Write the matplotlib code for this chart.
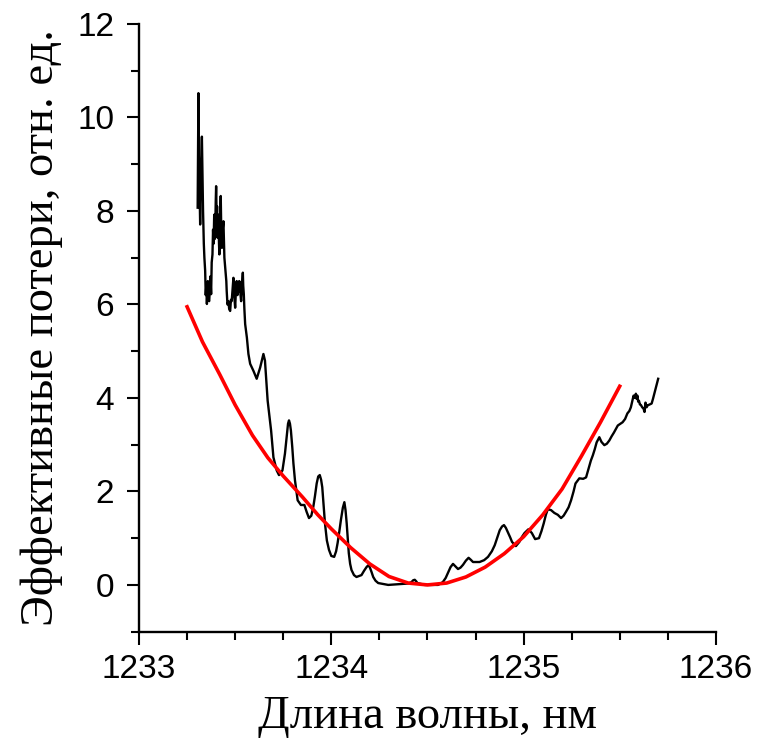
import matplotlib
matplotlib.use('Agg')
import matplotlib.pyplot as plt
from matplotlib.ticker import MultipleLocator

wl = [1233.305, 1233.307, 1233.309, 1233.311, 1233.313, 1233.316, 1233.318, 1233.321,
      1233.324, 1233.327, 1233.330, 1233.333, 1233.337, 1233.340, 1233.344, 1233.347,
      1233.350, 1233.353, 1233.356, 1233.358, 1233.361, 1233.365, 1233.368, 1233.371,
      1233.375, 1233.378, 1233.382, 1233.385, 1233.388, 1233.391, 1233.394, 1233.396,
      1233.399, 1233.401, 1233.404, 1233.406, 1233.408, 1233.410, 1233.413, 1233.416,
      1233.418, 1233.421, 1233.425, 1233.428, 1233.431, 1233.435, 1233.439, 1233.442,
      1233.444, 1233.448, 1233.451, 1233.454, 1233.456, 1233.460, 1233.465, 1233.469,
      1233.474, 1233.478, 1233.482, 1233.486, 1233.491, 1233.495, 1233.500, 1233.504,
      1233.508, 1233.512, 1233.517, 1233.521, 1233.526, 1233.528, 1233.531, 1233.535,
      1233.540, 1233.542, 1233.545, 1233.548, 1233.552, 1233.561, 1233.569, 1233.578,
      1233.595, 1233.612, 1233.630, 1233.647, 1233.655, 1233.669, 1233.687, 1233.699,
      1233.716, 1233.728, 1233.746, 1233.759, 1233.768, 1233.775, 1233.780, 1233.785,
      1233.790, 1233.797, 1233.803, 1233.811, 1233.825, 1233.842, 1233.860, 1233.872,
      1233.884, 1233.896, 1233.906, 1233.915, 1233.924, 1233.932, 1233.940, 1233.947,
      1233.953, 1233.960, 1233.967, 1233.977, 1233.988, 1234.000, 1234.015, 1234.025,
      1234.033, 1234.042, 1234.050, 1234.060, 1234.068, 1234.074, 1234.080, 1234.086,
      1234.091, 1234.098, 1234.105, 1234.118, 1234.131, 1234.157, 1234.170, 1234.183,
      1234.192, 1234.200, 1234.209, 1234.218, 1234.230, 1234.244, 1234.296, 1234.365,
      1234.400, 1234.417, 1234.426, 1234.434, 1234.441, 1234.448, 1234.486, 1234.555,
      1234.580, 1234.595, 1234.607, 1234.620, 1234.633, 1234.645, 1234.659, 1234.672,
      1234.685, 1234.700, 1234.714, 1234.725, 1234.737, 1234.771, 1234.795, 1234.815,
      1234.835, 1234.850, 1234.864, 1234.876, 1234.888, 1234.898, 1234.908, 1234.918,
      1234.930, 1234.940, 1234.960, 1234.978, 1234.992, 1235.005, 1235.025, 1235.043,
      1235.060, 1235.080, 1235.093, 1235.105, 1235.116, 1235.126, 1235.143, 1235.160,
      1235.178, 1235.195, 1235.208, 1235.220, 1235.234, 1235.247, 1235.260, 1235.270,
      1235.290, 1235.310, 1235.325, 1235.340, 1235.350, 1235.360, 1235.370, 1235.380,
      1235.394, 1235.405, 1235.420, 1235.433, 1235.446, 1235.458, 1235.470, 1235.490,
      1235.515, 1235.528, 1235.540, 1235.550, 1235.558, 1235.565, 1235.572, 1235.578,
      1235.584, 1235.588, 1235.592, 1235.596, 1235.600, 1235.605, 1235.610, 1235.617,
      1235.624, 1235.629, 1235.634, 1235.640, 1235.645, 1235.655, 1235.666, 1235.673,
      1235.680, 1235.690, 1235.700]
loss = [8.07, 9.50, 10.52, 9.20, 8.71, 8.20, 7.71, 8.60,
        9.20, 9.59, 8.80, 8.00, 7.30, 7.00, 6.72, 6.20,
        6.40, 6.01, 6.30, 6.50, 6.10, 6.07, 6.30, 6.60,
        6.22, 6.90, 7.07, 7.60, 7.30, 7.92, 7.40, 7.50,
        8.20, 8.53, 7.80, 8.10, 7.43, 7.70, 7.92, 7.30,
        7.07, 7.80, 8.32, 7.50, 7.21, 7.60, 7.78, 7.30,
        7.00, 6.80, 6.65, 6.50, 6.29, 6.00, 6.07, 5.90,
        5.86, 6.10, 6.07, 6.30, 6.57, 6.20, 5.93, 6.30,
        6.50, 6.20, 6.29, 6.50, 6.47, 6.20, 6.07, 6.40,
        6.68, 6.40, 6.22, 5.90, 5.58, 5.29, 4.94, 4.73,
        4.58, 4.41, 4.65, 4.94, 4.80, 3.94, 3.30, 2.73,
        2.45, 2.35, 2.45, 2.81, 3.16, 3.45, 3.52, 3.45,
        3.30, 2.95, 2.60, 2.24, 1.81, 1.71, 1.71, 1.56,
        1.43, 1.48, 1.66, 1.90, 2.17, 2.32, 2.35, 2.25,
        2.09, 1.70, 1.32, 0.95, 0.75, 0.62, 0.60, 0.72,
        0.90, 1.15, 1.39, 1.65, 1.77, 1.60, 1.32, 0.98,
        0.68, 0.45, 0.32, 0.21, 0.17, 0.21, 0.30, 0.38,
        0.42, 0.38, 0.28, 0.17, 0.09, 0.04, 0.00, 0.02,
        0.03, 0.06, 0.10, 0.11, 0.08, 0.04, 0.00, 0.00,
        0.06, 0.15, 0.26, 0.38, 0.45, 0.40, 0.34, 0.37,
        0.43, 0.52, 0.58, 0.54, 0.49, 0.49, 0.53, 0.60,
        0.72, 0.85, 1.02, 1.17, 1.25, 1.28, 1.22, 1.13,
        1.02, 0.92, 0.83, 0.92, 1.03, 1.11, 1.19, 1.11,
        0.98, 1.00, 1.15, 1.32, 1.50, 1.62, 1.60, 1.54,
        1.50, 1.43, 1.48, 1.56, 1.66, 1.81, 2.00, 2.17,
        2.28, 2.27, 2.30, 2.52, 2.66, 2.77, 2.90, 3.05,
        3.16, 3.06, 2.99, 3.02, 3.09, 3.18, 3.26, 3.41,
        3.48, 3.55, 3.67, 3.72, 3.80, 3.92, 4.05, 4.00,
        4.09, 3.98, 4.05, 3.92, 3.94, 3.86, 3.85, 3.80,
        3.77, 3.70, 3.90, 3.80, 3.84, 3.86, 3.88, 3.98,
        4.09, 4.25, 4.41]

# fitted curve (red)
fit_wl = [1233.25, 1233.33, 1233.42, 1233.50, 1233.59, 1233.67, 1233.75, 1233.85, 1233.93,
          1234.00, 1234.10, 1234.20, 1234.30, 1234.40, 1234.50, 1234.60, 1234.70,
          1234.80, 1234.90, 1235.00, 1235.10, 1235.20, 1235.30, 1235.40, 1235.50]
fit_loss = [5.95, 5.20, 4.50, 3.85, 3.20, 2.72, 2.33, 1.88, 1.50,
            1.20, 0.80, 0.45, 0.18, 0.04, 0.00, 0.04, 0.17,
            0.38, 0.67, 1.03, 1.50, 2.05, 2.75, 3.48, 4.25]

fig = plt.figure(figsize=(7.58, 7.40), dpi=100)
ax = fig.add_axes([0.1834, 0.1464, 0.761, 0.8212])

ax.plot(wl, loss, color='black', lw=1.7)
ax.plot(fit_wl, fit_loss, color='red', lw=2.6)

ax.set_xlim(1233, 1236)
ax.set_ylim(-1, 12)
ax.xaxis.set_major_locator(MultipleLocator(1))
ax.xaxis.set_minor_locator(MultipleLocator(0.25))
ax.yaxis.set_major_locator(MultipleLocator(2))
ax.yaxis.set_minor_locator(MultipleLocator(1))
ax.ticklabel_format(useOffset=False)

for s in ['top', 'right']:
    ax.spines[s].set_visible(False)
for s in ['left', 'bottom']:
    ax.spines[s].set_linewidth(1.7)

ax.tick_params(which='major', direction='out', length=9, width=1.5)
ax.tick_params(axis='y', which='major', pad=9)
ax.tick_params(axis='x', which='major', pad=7)
ax.tick_params(which='minor', direction='out', length=5.5, width=1.5)
for lab in ax.get_xticklabels() + ax.get_yticklabels():
    lab.set_fontfamily('Liberation Sans')
    lab.set_fontsize(24)

ax.set_xlabel('Длина волны, нм', family='Liberation Serif', fontsize=33.5, labelpad=8)
ax.set_ylabel('Эффективные потери, отн. ед.', family='Liberation Serif', fontsize=33.5, labelpad=10)

fig.savefig('out.png', dpi=100)
